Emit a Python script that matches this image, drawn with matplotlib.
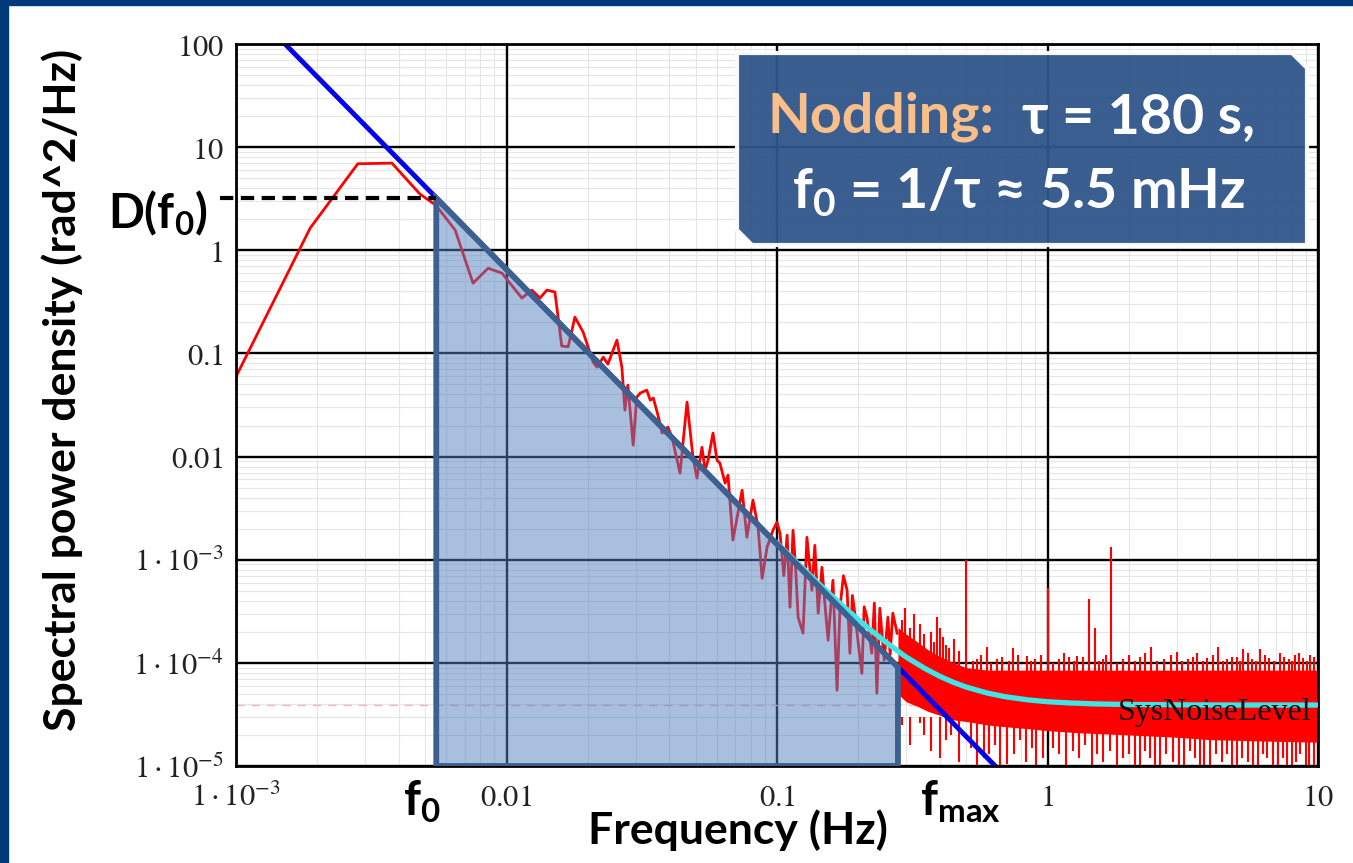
import numpy as np
import matplotlib.pyplot as plt
from matplotlib.patches import Polygon, Rectangle
from matplotlib.ticker import FixedLocator, FixedFormatter, LogLocator, NullFormatter

plt.rcParams['mathtext.fontset'] = 'stix'
plt.rcParams['mathtext.rm'] = 'Lato:bold'
plt.rcParams['mathtext.it'] = 'Lato:bold'
plt.rcParams['mathtext.bf'] = 'Lato:bold'

SANS = ['Lato', 'Open Sans', 'DejaVu Sans']

red_f = [0.00094, 0.00188, 0.00282, 0.00377, 0.00479, 0.00548, 0.00646, 0.00752, 0.00855, 0.00962,
         0.0114, 0.0124, 0.0133, 0.0141, 0.0151, 0.0160, 0.0169, 0.0179, 0.0192, 0.0209,
         0.0216, 0.0228, 0.0237, 0.0256, 0.0267, 0.0274, 0.0281, 0.0294, 0.0303, 0.0312,
         0.0330, 0.0340, 0.0349, 0.0363, 0.0376, 0.0395, 0.0409, 0.0438, 0.0465, 0.0489,
         0.0506, 0.0528, 0.0542, 0.0556, 0.0580, 0.0600, 0.0615, 0.0643, 0.0659, 0.0687,
         0.0711, 0.0743, 0.0774, 0.0815, 0.0851, 0.0881, 0.0919, 0.0966, 0.100, 0.1026,
         0.106, 0.109, 0.1117, 0.1146, 0.117, 0.1197, 0.1248, 0.129, 0.1346, 0.138, 0.142, 0.1466,
         0.150, 0.1545, 0.161, 0.1667, 0.171, 0.176, 0.1816, 0.186, 0.190, 0.194, 0.200, 0.206,
         0.210, 0.215, 0.224, 0.229, 0.234, 0.240, 0.249, 0.257, 0.262, 0.268, 0.278]
red_v = [0.043, 1.64, 6.9, 7.0, 3.5, 2.74, 1.57, 0.48, 0.67, 0.60,
         0.344, 0.411, 0.344, 0.411, 0.394, 0.118, 0.116, 0.225, 0.161, 0.0824,
         0.0736, 0.092, 0.0787, 0.1346, 0.0736, 0.0282, 0.0493, 0.0129, 0.0377, 0.0412,
         0.0441, 0.0352, 0.0369, 0.0252, 0.0169, 0.0193, 0.0154, 0.0069, 0.0337, 0.00986,
         0.00618, 0.0123, 0.00738, 0.00923, 0.0169, 0.00923, 0.00863, 0.00552, 0.0066, 0.00155,
         0.00252, 0.00472, 0.00165, 0.00378, 0.00207, 6.6e-4, 1.32e-3, 1.93e-3, 2.31e-3, 1.81e-3,
         7.0e-4, 1.73e-3, 3.46e-4, 1.93e-3, 9.0e-4, 2.77e-4, 1.94e-4, 1.65e-3, 5.06e-4, 1.38e-3,
         3.03e-4, 8.45e-4,
         4.0e-4, 1.66e-4, 6.32e-4, 5.42e-5, 3.46e-4, 7.0e-4, 5.06e-4, 1.24e-4, 4.5e-4, 3.03e-4,
         1.5e-4, 7.9e-5,
         3.5e-4, 2.77e-4, 1.24e-4, 3.8e-4, 5.07e-5, 3.39e-4, 1.06e-4, 2.77e-4, 1.2e-4, 3.03e-4,
         1.94e-4]

# dense noise floor above ~0.28 Hz: solid band plus single spikes
band_f = [0.28, 0.30, 0.33, 0.36, 0.40, 0.45, 0.50, 0.60, 0.70, 0.85, 1.0, 1.3, 2.0, 3.0, 4.0, 6.0, 10.0]
band_lo = [5.0e-5, 4.2e-5, 3.8e-5, 3.4e-5, 3.1e-5, 2.8e-5, 2.7e-5, 2.5e-5, 2.4e-5, 2.3e-5, 2.2e-5,
           2.1e-5, 2.0e-5, 1.9e-5, 1.8e-5, 1.75e-5, 1.7e-5]
band_hi = [2.2e-4, 1.9e-4, 1.6e-4, 1.35e-4, 1.15e-4, 1.0e-4, 9.0e-5, 8.5e-5, 8.5e-5, 8.5e-5, 8.5e-5,
           8.5e-5, 8.5e-5, 8.5e-5, 8.5e-5, 8.5e-5, 8.5e-5]
up_f = [0.29, 0.297, 0.31, 0.32, 0.338, 0.35, 0.37, 0.38, 0.391, 0.40, 0.41, 0.42, 0.433, 0.45, 0.47,
        0.5, 0.53, 0.55, 0.57, 0.597, 0.62, 0.65, 0.68, 0.72, 0.745, 0.78, 0.84, 0.87, 0.9, 0.95,
        1.0, 1.05, 1.1, 1.15, 1.2, 1.25, 1.29, 1.35, 1.42, 1.5, 1.55, 1.6, 1.65, 1.72, 1.8, 1.9,
        2.0, 2.1, 2.2, 2.3, 2.41, 2.55, 2.7, 2.85, 3.01, 3.15, 3.3, 3.45, 3.57, 3.75, 3.9, 4.1,
        4.27, 4.45, 4.6, 4.8, 5.0, 5.15, 5.28, 5.5, 5.7, 5.9, 6.1, 6.35, 6.6, 6.9, 7.24, 7.5,
        7.8, 8.0, 8.22, 8.5, 8.8, 9.1, 9.34, 9.7]
up_v = [2.6e-4, 3.4e-4, 2.2e-4, 3.0e-4, 2.4e-4, 1.9e-4, 2.0e-4, 1.6e-4, 2.8e-4, 2.2e-4, 1.8e-4,
        1.5e-4, 1.4e-4, 1.7e-4, 1.3e-4,
        1.0e-3, 1.05e-4, 1.1e-4, 1.2e-4, 1.42e-4, 1.0e-4, 1.1e-4, 1.15e-4, 1.05e-4, 1.38e-4, 1.2e-4,
        1.16e-4, 1.05e-4, 1.1e-4, 1.2e-4,
        5.3e-4, 1.0e-4, 1.1e-4, 1.25e-4, 1.15e-4, 1.05e-4, 1.16e-4, 1.15e-4, 4.2e-4, 2.2e-4, 1.05e-4,
        1.1e-4, 1.2e-4, 1.32e-3, 1.0e-4, 1.1e-4,
        1.2e-4, 1.05e-4, 1.15e-4, 1.25e-4, 1.42e-4, 1.05e-4, 1.1e-4, 1.2e-4, 1.28e-4, 1.05e-4,
        1.1e-4, 1.15e-4, 1.25e-4, 1.05e-4, 1.12e-4, 1.2e-4,
        1.42e-4, 1.05e-4, 1.1e-4, 1.15e-4, 1.15e-4, 1.05e-4, 1.35e-4, 1.25e-4, 1.1e-4, 1.05e-4,
        1.35e-4, 1.2e-4, 1.12e-4, 1.05e-4, 1.25e-4, 1.15e-4,
        1.1e-4, 1.05e-4, 1.2e-4, 1.25e-4, 1.12e-4, 1.05e-4, 1.2e-4, 1.15e-4]
down_f = [0.29, 0.31, 0.338, 0.35, 0.37, 0.40, 0.42, 0.44, 0.47, 0.52, 0.55, 0.58, 0.61, 0.64, 0.67,
          0.71, 0.75, 0.79, 0.83, 0.88, 0.91, 0.96, 1.05, 1.1, 1.17, 1.24, 1.31, 1.38, 1.46, 1.53,
          1.6, 1.7, 1.8, 1.9, 2.0, 2.1, 2.2, 2.3, 2.4, 2.5, 2.6, 2.75, 2.9, 3.05, 3.2, 3.35, 3.5,
          3.65, 3.8, 4.0, 4.2, 4.4, 4.6, 4.8, 5.0, 5.25, 5.5, 5.75, 6.0, 6.25, 6.5, 6.8, 7.1, 7.4,
          7.7, 8.0, 8.3, 8.6, 9.0, 9.3, 9.7]
down_v = [2.5e-5, 1.6e-5, 2.6e-5, 2.0e-5, 1.4e-5, 1.2e-5, 1.8e-5, 2.0e-5, 1.1e-5, 1.5e-5, 1.0e-5,
          1.2e-5, 1.3e-5, 1.6e-5, 1.0e-5, 1.05e-5, 1.3e-5, 1.8e-5, 1.1e-5, 1.5e-5, 1.0e-5, 1.2e-5,
          1.5e-5, 1.3e-5, 1.0e-5, 1.4e-5, 1.2e-5, 1.6e-5, 1.0e-5, 1.3e-5, 1.1e-5, 1.4e-5, 1.0e-5,
          1.2e-5, 1.3e-5, 1.0e-5, 1.0e-5, 1.4e-5, 1.2e-5, 1.0e-5, 1.0e-5, 1.3e-5, 1.1e-5, 1.0e-5,
          1.0e-5, 1.4e-5, 1.2e-5, 1.0e-5, 1.0e-5, 1.0e-5, 1.3e-5, 1.1e-5, 1.3e-5, 1.0e-5, 1.0e-5,
          1.2e-5, 1.1e-5, 1.0e-5, 1.0e-5, 1.3e-5, 1.2e-5, 1.0e-5, 1.0e-5, 1.2e-5, 1.0e-5, 1.0e-5,
          1.1e-5, 1.3e-5, 1.0e-5, 1.0e-5, 1.0e-5]

# Kolmogorov f^-8/3 line and fit including the system noise level
blue_f = [0.0014, 0.7]
blue_v = [124, 7.9e-6]
cyan_f = [0.1, 0.12, 0.15, 0.18, 0.2, 0.22, 0.25, 0.28, 0.3, 0.35, 0.4, 0.45, 0.5, 0.6, 0.7, 0.85,
          1.0, 1.2, 1.5, 2.0, 3.0, 5.0, 10.0]
cyan_v = [1.45e-3, 9.08e-4, 5.17e-4, 3.34e-4, 2.61e-4, 2.12e-4, 1.62e-4, 1.30e-4, 1.14e-4, 8.9e-5,
          7.4e-5, 6.46e-5, 5.83e-5, 5.09e-5, 4.69e-5, 4.37e-5, 4.2e-5, 4.09e-5, 4.0e-5, 3.95e-5,
          3.92e-5, 3.9e-5, 3.9e-5]
noise_level = 3.9e-5

# integrated area between f0 and fmax
f0 = 0.0055
fmax = 0.28
d_f0 = 3.2
d_fmax = 9.1e-5

x_ticks = [1e-3, 1e-2, 1e-1, 1, 10]
x_labels = [r'$1\cdot10^{-3}$', r'$0.01$', r'$0.1$', r'$1$', r'$10$']
y_ticks = [1e-5, 1e-4, 1e-3, 1e-2, 1e-1, 1, 10, 100]
y_labels = [r'$1\cdot10^{-5}$', r'$1\cdot10^{-4}$', r'$1\cdot10^{-3}$', r'$0.01$', r'$0.1$',
            r'$1$', r'$10$', r'$100$']

W, H = 1353, 863


def fx(x):
    return x / W


def fy(y):
    return 1 - y / H


fig = plt.figure(figsize=(13.53, 8.63), dpi=100)
fig.patch.set_facecolor('white')
ax = fig.add_axes([fx(236), fy(766), (1318 - 236) / W, (766 - 44) / H])
ax.set_xscale('log')
ax.set_yscale('log')
ax.set_xlim(1e-3, 10)
ax.set_ylim(1e-5, 100)

ax.xaxis.set_major_locator(FixedLocator(x_ticks))
ax.xaxis.set_major_formatter(FixedFormatter(x_labels))
ax.yaxis.set_major_locator(FixedLocator(y_ticks))
ax.yaxis.set_major_formatter(FixedFormatter(y_labels))
for axis in (ax.xaxis, ax.yaxis):
    axis.set_minor_locator(LogLocator(base=10, subs=np.arange(2, 10)))
    axis.set_minor_formatter(NullFormatter())
ax.grid(which='major', color='black', lw=1.7)
ax.set_axisbelow(True)
# minor grid drawn separately so it stays under the black major lines
ax.vlines(ax.xaxis.get_minorticklocs(), 1e-5, 100, color='#e6e6e6', lw=0.8, zorder=0.2)
ax.hlines(ax.yaxis.get_minorticklocs(), 1e-3, 10, color='#e6e6e6', lw=0.8, zorder=0.2)
ax.tick_params(which='both', length=0, labelsize=22, labelcolor='#222222')
ax.tick_params(axis='y', pad=9)
ax.tick_params(axis='x', pad=12)
for s in ax.spines.values():
    s.set_linewidth(2)
    s.set_color('black')

ax.axhline(noise_level, color='#f0b8b8', lw=1, ls=(0, (6, 5)), zorder=1.5)
ax.plot(red_f, red_v, color='red', lw=2, zorder=2)
ax.fill_between(band_f, band_lo, band_hi, color='red', lw=0, zorder=2)
ax.vlines(up_f, 6e-5, up_v, color='red', lw=1.5, zorder=2)
ax.vlines(down_f, down_v, 3e-5, color='red', lw=1.5, zorder=2)
ax.plot(blue_f, blue_v, color='#0000f0', lw=3.5, zorder=2.5)
ax.plot(cyan_f, cyan_v, color='#3ee6e6', lw=3.8, zorder=2.6)

ax.add_patch(Polygon(np.column_stack([[f0, f0, fmax, fmax], [1e-5, d_f0, d_fmax, 1e-5]]),
                     closed=True, facecolor=(0.33, 0.50, 0.75, 0.5), edgecolor='#3d6090',
                     lw=4.2, zorder=3, joinstyle='miter'))
ax.plot([8.7e-4, f0], [d_f0, d_f0], color='black', lw=3, ls=(0, (3.2, 1.8)),
        clip_on=False, zorder=4)

# title box with snipped corners
bx = [737, 1292, 1307, 1307, 752, 737]
by = [53, 53, 68, 245, 245, 230]
fig.patches.append(Polygon(np.column_stack([[fx(v) for v in bx], [fy(v) for v in by]]),
                           closed=True, transform=fig.transFigure, facecolor='#30558a',
                           alpha=0.95, edgecolor='white', lw=3, zorder=5))
fig.text(fx(768), fy(133), 'Nodding:', color='#f9bf8b', fontsize=40, fontweight='bold',
         family=SANS, ha='left', va='baseline', zorder=6)
fig.text(fx(1022), fy(133), 'τ = 180 s,', color='white', fontsize=40, fontweight='bold',
         family=SANS, ha='left', va='baseline', zorder=6)
fig.text(fx(1019), fy(208), 'f$_0$ = 1/τ ≈ 5.5 mHz', color='white', fontsize=40,
         fontweight='bold', family=SANS, ha='center', va='baseline', zorder=6,
         math_fontfamily='custom')

fig.text(fx(62), fy(390), 'Spectral power density (rad^2/Hz)', rotation=90, ha='center',
         va='center', fontsize=32, fontweight='bold', family=SANS)
fig.text(fx(738), fy(830), 'Frequency (Hz)', ha='center', va='center', fontsize=32,
         fontweight='bold', family=SANS)
fig.text(fx(403), fy(815), 'f$_0$', ha='left', va='baseline', fontsize=34, fontweight='bold',
         family=SANS, math_fontfamily='custom')
fig.text(fx(920), fy(815), 'f$_{max}$', ha='left', va='baseline', fontsize=34,
         fontweight='bold', family=SANS, math_fontfamily='custom')
fig.text(fx(108), fy(228), 'D(f$_0$)', ha='left', va='baseline', fontsize=34,
         fontweight='bold', family=SANS, math_fontfamily='custom')
fig.text(fx(1312), fy(720), 'SysNoiseLevel', ha='right', va='baseline', fontsize=23,
         family='Liberation Serif', color='#111111', zorder=6)

# dark blue slide frame
frame = '#003a7a'
fig.patches.append(Rectangle((0, 0), fx(8), 1, transform=fig.transFigure, color=frame, zorder=0))
fig.patches.append(Rectangle((0, fy(5)), 1, 5 / H, transform=fig.transFigure, color=frame, zorder=0))

fig.savefig('out.png', dpi=100)
